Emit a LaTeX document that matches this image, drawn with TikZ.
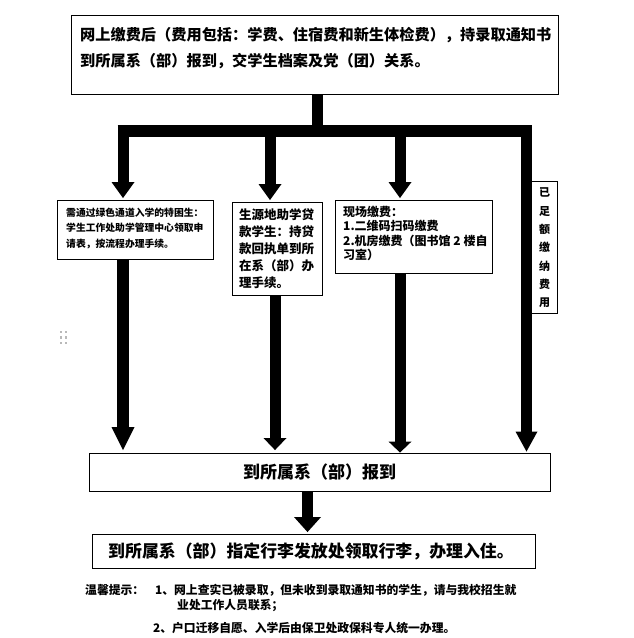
\documentclass[tikz,border=0pt]{standalone}
\usepackage{fontspec}
\setmainfont{Noto Sans CJK SC}
\usetikzlibrary{arrows.meta}
\begin{document}
\begin{tikzpicture}[x=1pt,y=-1pt]
\tikzset{
  boxst/.style={draw, line width=0.9pt, inner sep=0pt},
  txt/.style={inner sep=0pt, align=left, anchor=west},
  fat/.style={line width=11pt},
  headarrow/.style 2 args={-{Triangle[width=#1pt,length=#2pt,line width=0pt]}},
}
\fill[white] (0,0) rectangle (634,638);
\useasboundingbox (0,0) rectangle (634,638);

% boxes
\node[boxst, minimum width=487pt, minimum height=79pt] (top) at (314.5,54.5) {};
\node[boxst, minimum width=156pt, minimum height=59pt] (b1) at (135,229.5) {};
\node[boxst, minimum width=90pt, minimum height=93pt] (b2) at (277,248.5) {};
\node[boxst, minimum width=157.5pt, minimum height=73pt] (b3) at (413.75,236.5) {};
\node[boxst, minimum width=25.5pt, minimum height=132pt] (b4) at (544.25,247) {};
\node[boxst, minimum width=461pt, minimum height=38pt, font=\fontsize{17}{20}\selectfont\bfseries] (mid) at (319.5,472) {到所属系（部）报到};
\node[boxst, minimum width=443pt, minimum height=34pt] (final) at (313.5,551) {};

% texts
\node[txt, font=\fontsize{15.2}{26}\selectfont\bfseries] (toptxt) at (80,48)
  {网上缴费后（费用包括：学费、住宿费和新生体检费），持录取通知书\\到所属系（部）报到，交学生档案及党（团）关系。};
\node[txt, font=\fontsize{9.8}{15.5}\selectfont\bfseries] (b1txt) at (66,228.5)
  {需通过绿色通道入学的特困生：\\学生工作处助学管理中心领取申\\请表，按流程办理手续。};
\node[txt, font=\fontsize{12.5}{17}\selectfont\bfseries] (b2txt) at (239,249)
  {生源地助学贷\\款学生：持贷\\款回执单到所\\在系（部）办\\理手续。};
\node[txt, font=\fontsize{12}{14.3}\selectfont\bfseries] (b3txt) at (343,233.5)
  {现场缴费：\\1.二维码扫码缴费\\2.机房缴费（图书馆 2 楼自\\习室）};
\node[inner sep=0pt, align=center, font=\fontsize{11}{18.3}\selectfont\bfseries] (b4txt) at (544.5,248)
  {已\\足\\额\\缴\\纳\\费\\用};
\node[txt, font=\fontsize{16.9}{20}\selectfont\bfseries] (finaltxt) at (108,551)
  {到所属系（部）指定行李发放处领取行李，办理入住。};

% notes
\node[txt, font=\fontsize{11.8}{14}\selectfont\bfseries] (notetitle) at (85,590) {温馨提示：};
\node[txt, font=\fontsize{11.8}{14}\selectfont\bfseries] (note1) at (155,590) {1、网上查实已被录取，但未收到录取通知书的学生，请与我校招生就};
\node[txt, font=\fontsize{11.8}{14}\selectfont\bfseries] (note1b) at (177,605) {业处工作人员联系；};
\node[txt, font=\fontsize{11.8}{14}\selectfont\bfseries] (note2) at (153,628) {2、户口迁移自愿、入学后由保卫处政保科专人统一办理。};

% column coordinates
\coordinate (bar) at (317.5,131);
\coordinate (barL) at (117.5,131);
\coordinate (barR) at (532,131);
\coordinate (c1) at (123,0);
\coordinate (c2t) at (270,0);
\coordinate (c2b) at (275,0);
\coordinate (c3) at (400,0);
\coordinate (c4) at (526.5,0);
\coordinate (c5) at (307.5,0);

% trunk and bar
\draw[line width=11.5pt] (top.south -| bar) -- (bar);
\draw[line width=12pt] (barL) -- (barR);

% top arrows
\draw[fat, headarrow={23}{16}, shorten >=1.5pt] (c1 |- bar) -- (c1 |- b1.north);
\draw[fat, headarrow={23}{16}, shorten >=1.5pt] (c2t |- bar) -- (c2t |- b2.north);
\draw[fat, headarrow={23}{16}, shorten >=1.5pt] (c3 |- bar) -- (c3 |- b3.north);
\draw[fat, headarrow={22}{20}, shorten >=1pt] (c4 |- bar) -- (c4 |- mid.north);

% lower arrows
\draw[line width=12.5pt, headarrow={23}{23}, shorten >=2.5pt] (c1 |- b1.south) -- (c1 |- mid.north);
\draw[fat, headarrow={23}{12}, shorten >=2.5pt] (c2b |- b2.south) -- (c2b |- mid.north);
\draw[fat, headarrow={23}{11}] (c3 |- b3.south) -- (c3 |- mid.north);
\draw[fat, headarrow={27}{15}, shorten >=1.5pt] (c5 |- mid.south) -- (c5 |- final.north);

% anchor handle dots
\foreach \yy in {332,337.5,343} {
  \foreach \xx in {61,66} {
    \fill[gray!55] (\xx-1.2,\yy-1.2) rectangle +(2.4,2.4);
  }
}
\end{tikzpicture}
\end{document}
